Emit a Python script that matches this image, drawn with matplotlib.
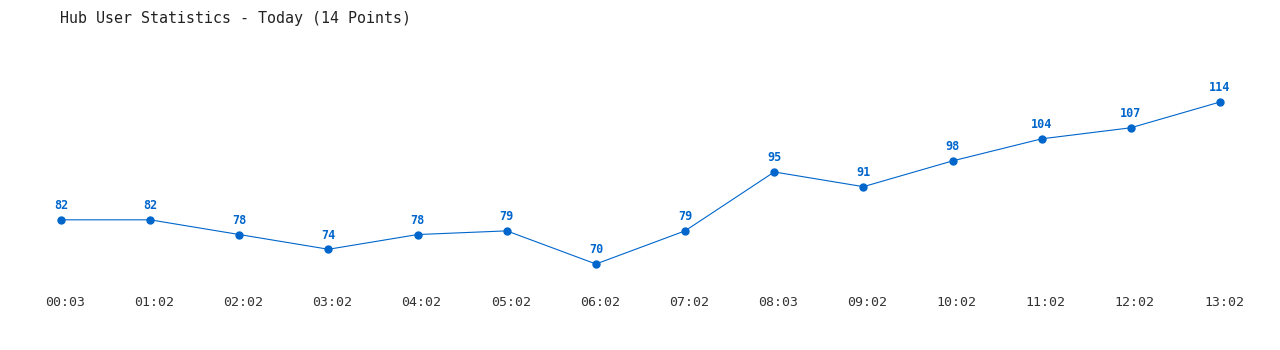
import matplotlib
matplotlib.use('Agg')
import matplotlib.pyplot as plt
import matplotlib.transforms as mtransforms

# Hub user counts, today
times = ['00:03', '01:02', '02:02', '03:02', '04:02', '05:02', '06:02',
         '07:02', '08:03', '09:02', '10:02', '11:02', '12:02', '13:02']
users = [82, 82, 78, 74, 78, 79, 70, 79, 95, 91, 98, 104, 107, 114]

line_color = '#0066cc'
mono = 'DejaVu Sans Mono'

fig = plt.figure(figsize=(12.8, 3.5), dpi=100)
ax = fig.add_axes([0, 0, 1, 1])
ax.axis('off')

x = list(range(len(users)))
ax.plot(x, users, color=line_color, linewidth=0.8, marker='o', markersize=5, zorder=3)

for xi, v in zip(x, users):
    ax.annotate(str(v), (xi, v), xytext=(0, 5.5), textcoords='offset points',
                ha='center', va='bottom', fontsize=8.5, fontweight='bold',
                color=line_color, family=mono)

# labels under the chart (shifted a few pixels right, like the original)
trans = mtransforms.offset_copy(
    mtransforms.blended_transform_factory(ax.transData, ax.transAxes),
    fig=fig, x=4, y=0, units='dots')
for xi, t in zip(x, times):
    ax.text(xi, 1 - 303 / 350, t, transform=trans, ha='center', va='center',
            fontsize=9.5, color='#333333', family=mono)

# map pixel positions: index 0 at x=61, index 13 at x=1220; 70 at y=264, 114 at y=102
px_x = (1220 - 61) / 13.0
ax.set_xlim(-61 / px_x, 13 + (1280 - 1220) / px_x)
px_y = (264 - 102) / 44.0
ax.set_ylim(70 - (350 - 264) / px_y, 70 + 264 / px_y)

fig.text(60 / 1280, 1 - 18 / 350, 'Hub User Statistics - Today (14 Points)',
         ha='left', va='center', fontsize=10.8, color='#222222', family=mono)

fig.savefig('out.png', dpi=100, facecolor='white')
